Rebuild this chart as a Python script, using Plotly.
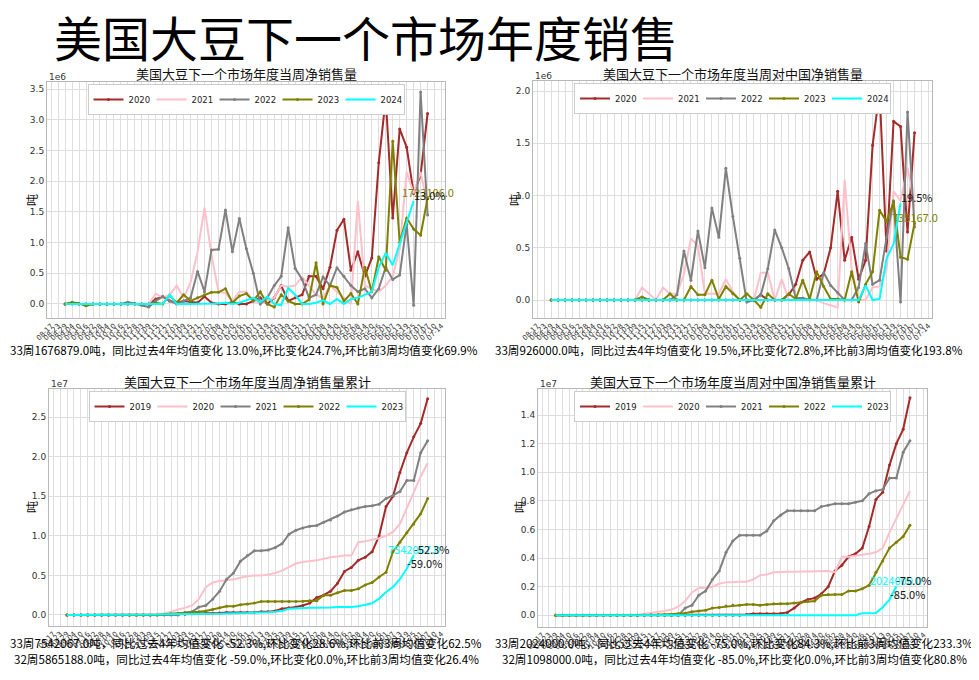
import plotly.graph_objects as go

PAGE_W, PAGE_H = 979, 680
BODY = 8  # default page margin around the plot div
W, H = PAGE_W - BODY, PAGE_H - BODY

# ---------------- data ----------------
WEEK_LABELS = [
    "08-17", "08-23", "08-29", "09-04", "09-10", "09-16", "09-22", "09-28", "10-04", "10-10",
    "10-16", "10-22", "10-28", "11-03", "11-09", "11-15", "11-21", "11-27", "12-03", "12-09",
    "12-15", "12-21", "12-27", "01-02", "01-08", "01-14", "01-20", "01-26", "02-01", "02-07",
    "02-13", "02-19", "02-25", "03-03", "03-09", "03-15", "03-21", "03-27", "04-02", "04-08",
    "04-14", "04-20", "04-26", "05-02", "05-08", "05-14", "05-20", "05-26", "06-01", "06-07",
    "06-13", "06-19", "06-25", "07-01", "07-07", "07-10", "07-14",
]
FIRST_WEEK = 2  # every series begins at this slot of WEEK_LABELS

YEARS_WEEKLY = ["2020", "2021", "2022", "2023", "2024"]
YEARS_CUM = ["2019", "2020", "2021", "2022", "2023"]

# weekly net sales, total (unit 1e6 t)
total_2020 = [0, 0.01, 0, 0, 0, 0, 0, 0, 0, 0, 0, 0,
              0, 0.08, 0.12, 0.05, 0.02, 0.05, 0.03, 0.02, 0.12, 0.02,
              0, 0, 0.03, 0, 0, 0.05, 0.1, 0, 0.1, 0.3,
              0.05, 0.1, 0.15, 0.45, 0.45, 0.25, 0.6, 1.2, 1.38, 0.55,
              0.85, 0.45, 0.75, 2.3, 3.35, 1.4, 2.85, 2.55, 1.8, 2.1, 3.1]
total_2021 = [0] * 13 + [0.17, 0.1, 0.15, 0.3, 0.1, 0.35, 0.85, 1.57, 0.8, 0.2,
                         0.18, 0.05, 0.2, 0.2, 0.05, 0.02, 0.05, 0.1, 0.3, 0.28,
                         0.3, 0.44, 0.3, 0.15, 0.1, 0.3, 0.2, 0.1, 0.0, 1.68,
                         0.3, 0.25, 0.2, 0.3, 0.45, 0.9, 2.15, 1.8, 2.15, 1.6]
total_2022 = [0] * 9 + [0.03, 0, -0.02, -0.05, 0.05, 0.12, 0.05, 0, 0.05, 0.1,
                        0.53, 0.2, 0.88, 0.89, 1.53, 0.85, 1.39, 0.9, 0.5, 0.0,
                        0.1, 0.3, 0.45, 1.24, 0.58, 0.4, 0.1, 0.15, 0.44, 0.3,
                        0.59, 0.45, 0.3, 0.2, 0.25, 0.1, 0.25, 0.6, 0.4, 0.47,
                        1.3, -0.02, 3.45, 1.45]
total_2023 = [0, 0.03, 0.01, -0.03, 0, 0, 0, 0, 0, 0,
              0.01, 0, 0, 0.02, 0, 0.14, 0.02, 0.15, 0.05, 0.1,
              0.15, 0.19, 0.19, 0.25, 0.02, 0.13, 0.17, 0.05, 0.2, 0.0,
              -0.05, 0.15, 0.05, 0.0, 0.0, 0.07, 0.67, 0.0, 0.3, 0.27,
              0.05, 0.17, 0.0, 0.6, 0.2, 0.77, 0.55, 2.65, 1.0, 1.4,
              1.22, 1.12, 1.723106]
total_2024 = [0] * 10 + [0, 0, 0, 0, 0, 0.15, 0, 0, 0, 0,
                         0, 0, 0.01, 0.02, 0.0, 0.02, 0.06, 0.1, 0.03, 0.12,
                         0, -0.02, 0.26, 0.15, 0.0, 0.0, 0.02, 0.06, 0.0, 0.08,
                         0.0, 0.08, 0.1, 0.15, 0.2, 0.6, 0.83, 0.63, 0.985, 1.345, 1.676879]

# weekly net sales to China (unit 1e6 t)
china_2020 = [0] * 30 + [0.05, 0, 0, 0, 0.05,
                         0.15, 0.38, 0.46, 0.2, 0.25, 0.5, 1.04, 0.38, 0.6, 0.2,
                         0.38, 1.48, 2.0, 0.47, 1.71, 1.66, 0.65, 1.6]
china_2021 = [0] * 13 + [0.12, 0.06, 0, 0.12, 0.06, 0.06, 0.25, 0.59, 0.52, 0.06,
                         0.06, 0.06, 0.2, 0.08, 0, 0, 0, 0.26, 0.26, 0,
                         0.2, 0, 0, 0.01, 0.01, 0, -0.03, -0.05, -0.07, 1.15,
                         0.3, 0, 0, 0.12, 0.13, 0.3, 1.04, 0.95, 1.27, 0.9]
china_2022 = [0] * 18 + [0.05, 0.47, 0.19, 0.66, 0.31, 0.88, 0.6, 1.26, 0.8, 0.4,
                         -0.02, 0, 0.05, 0.3, 0.67, 0.5, 0.3, 0.02, 0.02, 0,
                         0, 0.26, 0.14, 0.07, 0, 0, 0.12, 0.54, 0.15, 0.19,
                         0.6, 0.95, -0.02, 1.8, 0.7]
china_2023 = [0] * 13 + [0.03, 0, 0, 0, 0.06, 0, 0, 0.13, 0.05, 0.05,
                         0.19, 0.01, 0.13, 0.06, 0, 0.06, 0, -0.07, 0.06, 0,
                         0, 0.06, 0.01, 0.19, 0.01, 0.27, 0.13, 0.01, 0.01, 0,
                         0.27, -0.02, 0.15, 0.27, 0.86, 0.75, 0.94, 0.41, 0.39, 0.735167]
china_2024 = [0] * 44 + [0.0, 0.14, 0.0, 0.01, 0.4, 0.536, 0.926]

# cumulative net sales, total (unit 1e7 t)
cum_2019 = [0] * 13 + [0.005, 0.005, 0.01, 0.01, 0.01, 0.015, 0.02, 0.02, 0.02, 0.025,
                       0.03, 0.03, 0.03, 0.03, 0.035, 0.04, 0.04, 0.05, 0.08, 0.09,
                       0.1, 0.12, 0.15, 0.22, 0.25, 0.3, 0.4, 0.55, 0.6, 0.69,
                       0.73, 0.8, 1.0, 1.37, 1.5, 1.8, 2.05, 2.25, 2.42, 2.73]
cum_2020 = [0] * 11 + [0.005, 0.01, 0.015, 0.02, 0.04, 0.07, 0.09, 0.12, 0.2, 0.35,
                       0.41, 0.43, 0.44, 0.45, 0.47, 0.49, 0.5, 0.5, 0.51, 0.53,
                       0.56, 0.6, 0.65, 0.67, 0.68, 0.69, 0.71, 0.73, 0.74, 0.75,
                       0.75, 0.92, 0.93, 0.95, 0.97, 1.0, 1.05, 1.15, 1.35, 1.55,
                       1.75, 1.92]
cum_2021 = [0] * 17 + [0.03, 0.04, 0.1, 0.12, 0.2, 0.3, 0.45, 0.53, 0.68, 0.75,
                       0.81, 0.81, 0.82, 0.85, 0.9, 1.02, 1.07, 1.1, 1.12, 1.13,
                       1.17, 1.2, 1.25, 1.3, 1.33, 1.35, 1.37, 1.38, 1.4, 1.47,
                       1.51, 1.56, 1.7, 1.7, 2.05, 2.2]
cum_2022 = [0] * 14 + [0.01, 0.015, 0.02, 0.025, 0.03, 0.04, 0.05, 0.07, 0.09, 0.11,
                       0.11, 0.13, 0.14, 0.15, 0.17, 0.17, 0.17, 0.17, 0.17, 0.17,
                       0.175, 0.18, 0.18, 0.25, 0.25, 0.28, 0.31, 0.31, 0.33, 0.38,
                       0.41, 0.48, 0.54, 0.8, 0.92, 1.04, 1.15, 1.28, 1.47]
cum_2023 = [0] * 13 + [0.005, 0.01, 0.01, 0.01, 0.01, 0.01, 0.015, 0.015, 0.015, 0.015,
                       0.02, 0.02, 0.02, 0.025, 0.03, 0.03, 0.035, 0.04, 0.05, 0.08,
                       0.085, 0.085, 0.09, 0.09, 0.09, 0.095, 0.1, 0.1, 0.1, 0.11,
                       0.125, 0.147, 0.207, 0.29, 0.354, 0.452, 0.5865188, 0.7542067]

# cumulative net sales to China (unit 1e7 t)
cumcn_2019 = [0] * 28 + [0.005, 0.01, 0.01, 0.01, 0.01,
                         0.012, 0.02, 0.05, 0.09, 0.11, 0.12, 0.15, 0.2, 0.31, 0.35,
                         0.41, 0.43, 0.47, 0.62, 0.81, 0.86, 1.05, 1.2, 1.3, 1.52]
cumcn_2020 = [0] * 13 + [0.01, 0.015, 0.02, 0.03, 0.04, 0.06, 0.1, 0.16, 0.19, 0.19,
                         0.2, 0.22, 0.23, 0.235, 0.235, 0.235, 0.25, 0.28, 0.285, 0.3,
                         0.305, 0.305, 0.305, 0.305, 0.305, 0.31, 0.31, 0.31, 0.3, 0.41,
                         0.41, 0.415, 0.42, 0.43, 0.44, 0.47, 0.58, 0.68, 0.78, 0.87]
cumcn_2021 = [0] * 18 + [0.0, 0.05, 0.07, 0.14, 0.17, 0.25, 0.31, 0.44, 0.52, 0.56,
                         0.56, 0.56, 0.56, 0.59, 0.66, 0.7, 0.73, 0.73, 0.73, 0.73,
                         0.73, 0.76, 0.77, 0.78, 0.78, 0.78, 0.79, 0.8, 0.85, 0.87,
                         0.88, 0.96, 0.96, 1.14, 1.22]
cumcn_2022 = [0] * 13 + [0.002, 0.003, 0.004, 0.006, 0.008, 0.01, 0.015, 0.025, 0.03, 0.035,
                         0.05, 0.055, 0.065, 0.07, 0.07, 0.075, 0.075, 0.07, 0.075, 0.08,
                         0.08, 0.08, 0.085, 0.09, 0.1, 0.1, 0.14, 0.145, 0.145, 0.145,
                         0.17, 0.17, 0.185, 0.21, 0.3, 0.38, 0.47, 0.51, 0.55, 0.63]
cumcn_2023 = [0] * 43 + [0.001, 0.001, 0.015, 0.015, 0.016, 0.056, 0.1098, 0.2024]

# annotation texts
MAIN_TITLE = "美国大豆下一个市场年度销售"
TITLES = ["美国大豆下一个市场年度当周净销售量", "美国大豆下一个市场年度当周对中国净销售量",
          "美国大豆下一个市场年度当周净销售量累计", "美国大豆下一个市场年度当周对中国净销售量累计"]
SUMMARY = [
    ["33周1676879.0吨，同比过去4年均值变化 13.0%,环比变化24.7%,环比前3周均值变化69.9%"],
    ["33周926000.0吨，同比过去4年均值变化 19.5%,环比变化72.8%,环比前3周均值变化193.8%"],
    ["33周7542067.0吨，同比过去4年均值变化 -52.3%,环比变化28.6%,环比前3周均值变化62.5%",
     "32周5865188.0吨，同比过去4年均值变化 -59.0%,环比变化0.0%,环比前3周均值变化26.4%"],
    ["33周2024000.0吨，同比过去4年均值变化 -75.0%,环比变化84.3%,环比前3周均值变化233.3%",
     "32周1098000.0吨，同比过去4年均值变化 -85.0%,环比变化0.0%,环比前3周均值变化80.8%"],
]
VALUE_LABELS = ["1723106.0", "735167.0", "7542067.0", "2024000.0"]
PCT_LABELS = [["13.0%"], ["19.5%"], ["-52.3%", "-59.0%"], ["-75.0%", "-85.0%"]]

# ---------------- style / layout ----------------
COLORS = ["#A52A2A", "#FFC0CB", "#808080", "#808000", "#00FFFF"]
WITH_MARKERS = [True, False, True, True, False]
CJK = "Noto Sans CJK SC"
TICKFONT = "DejaVu Sans"

panels = [
    dict(series=[total_2020, total_2021, total_2022, total_2023, total_2024], years=YEARS_WEEKLY,
         px=(47, 445), py=(82, 318), yr=(-0.228, 3.614), yt=[0, 0.5, 1, 1.5, 2, 2.5, 3, 3.5],
         exp="1e6", label_series=3, pct_series=4, ylab=(31, 200), txt=[(8, 350)]),
    dict(series=[china_2020, china_2021, china_2022, china_2023, china_2024], years=YEARS_WEEKLY,
         px=(533, 932), py=(81, 318), yr=(-0.172, 2.096), yt=[0, 0.5, 1, 1.5, 2],
         exp="1e6", label_series=3, pct_series=4, ylab=(514, 200), txt=[(493, 350)]),
    dict(series=[cum_2019, cum_2020, cum_2021, cum_2022, cum_2023], years=YEARS_CUM,
         px=(49, 445), py=(389, 626), yr=(-0.139, 2.854), yt=[0, 0.5, 1, 1.5, 2, 2.5],
         exp="1e7", label_series=4, pct_series=4, ylab=(31, 507), txt=[(8, 643), (12, 659)]),
    dict(series=[cumcn_2019, cumcn_2020, cumcn_2021, cumcn_2022, cumcn_2023], years=YEARS_CUM,
         px=(538, 927), py=(389, 627), yr=(-0.082, 1.582), yt=[0, 0.2, 0.4, 0.6, 0.8, 1.0, 1.2, 1.4],
         exp="1e7", label_series=4, pct_series=4, ylab=(519, 507), txt=[(493, 643), (500, 659)]),
]


def fx(p):
    return (p - BODY) / W


def fy(p):
    return 1 - (p - BODY) / H


fig = go.Figure()
annotations = []
layout = dict(width=W, height=H, margin=dict(l=0, r=0, t=0, b=0, autoexpand=False),
              paper_bgcolor="white", plot_bgcolor="white", showlegend=True)

for k, p in enumerate(panels):
    sfx = "" if k == 0 else str(k + 1)
    xa, ya = "x" + sfx, "y" + sfx
    leg = "legend" + sfx
    for j, (vals, yr_name) in enumerate(zip(p["series"], p["years"])):
        xs = WEEK_LABELS[FIRST_WEEK:FIRST_WEEK + len(vals)]
        fig.add_trace(go.Scatter(
            x=xs, y=vals, name=yr_name, xaxis=xa, yaxis=ya, legend=leg,
            mode="lines+markers" if WITH_MARKERS[j] else "lines",
            line=dict(color=COLORS[j], width=2),
            marker=dict(size=3, color=COLORS[j]),
            hoverinfo="skip"))
    layout["xaxis" + sfx] = dict(
        domain=[fx(p["px"][0]), fx(p["px"][1])], anchor=ya, type="category",
        categoryorder="array", categoryarray=WEEK_LABELS,
        tickmode="array", tickvals=WEEK_LABELS, ticktext=WEEK_LABELS,
        range=[-0.6, len(WEEK_LABELS) - 0.5], tickangle=-45, automargin=False,
        tickfont=dict(family=TICKFONT, size=7, color="#333"),
        showgrid=True, gridcolor="#dedede", gridwidth=1,
        showline=True, mirror=True, linecolor="#b8b8b8", linewidth=1, zeroline=False,
        ticks="", fixedrange=True)
    layout["yaxis" + sfx] = dict(
        domain=[fy(p["py"][1]), fy(p["py"][0])], anchor=xa, automargin=False,
        range=list(p["yr"]), tickmode="array", tickvals=p["yt"],
        ticktext=["%.1f" % v for v in p["yt"]],
        tickfont=dict(family=TICKFONT, size=9, color="#333"),
        showgrid=True, gridcolor="#dedede", gridwidth=1,
        showline=True, mirror=True, linecolor="#b8b8b8", linewidth=1, zeroline=False,
        ticks="", fixedrange=True)
    cx = (p["px"][0] + p["px"][1]) / 2
    layout[leg] = dict(
        x=fx(cx), xanchor="center", y=fy(p["py"][0] + 2), yanchor="top",
        orientation="h", bgcolor="white", bordercolor="#cccccc", borderwidth=1,
        entrywidth=18, entrywidthmode="pixels",
        font=dict(family=TICKFONT, size=8.5, color="#222"), itemclick=False)
    # subplot title
    annotations.append(dict(text=TITLES[k], x=fx(cx), y=fy(p["py"][0] - 8), xref="paper", yref="paper",
                            xanchor="center", yanchor="middle", showarrow=False,
                            font=dict(family=CJK, size=13, color="#111")))
    # exponent label
    annotations.append(dict(text=p["exp"], x=fx(p["px"][0]), y=fy(p["py"][0] - 5), xref="paper", yref="paper",
                            xanchor="left", yanchor="middle", showarrow=False, align="left",
                            font=dict(family=TICKFONT, size=9, color="#333")))
    # y axis label
    annotations.append(dict(text="吨", x=fx(p["ylab"][0]), y=fy(p["ylab"][1]), xref="paper", yref="paper",
                            xanchor="center", yanchor="middle", showarrow=False, textangle=-90,
                            font=dict(family=CJK, size=12, color="#111")))
    # value label (centered on the last point of the highlighted series)
    ls = p["series"][p["label_series"]]
    annotations.append(dict(text=VALUE_LABELS[k], x=WEEK_LABELS[FIRST_WEEK + len(ls) - 1], y=ls[-1],
                            xref=xa, yref=ya, xanchor="center", yanchor="bottom", yshift=-4,
                            showarrow=False, font=dict(family=CJK, size=11, color=COLORS[p["label_series"]])))
    # percentage labels on the latest series
    ps = p["series"][p["pct_series"]]
    for m, txt in enumerate(PCT_LABELS[k]):
        idx = len(ps) - 1 - m
        annotations.append(dict(text=txt, x=WEEK_LABELS[FIRST_WEEK + idx], y=ps[idx],
                                xref=xa, yref=ya, xanchor="left", yanchor="bottom", yshift=-4, xshift=-2,
                                align="left", showarrow=False,
                                font=dict(family=CJK, size=11, color="#111")))
    # summary text lines
    for line, (tx, ty) in zip(SUMMARY[k], p["txt"]):
        annotations.append(dict(text=line, x=fx(tx), y=fy(ty), xref="paper", yref="paper",
                                xanchor="left", yanchor="middle", showarrow=False, align="left",
                                font=dict(family=CJK, size=11.6, color="#000")))

annotations.append(dict(text=MAIN_TITLE, x=fx(52), y=fy(36), xref="paper", yref="paper",
                        xanchor="left", yanchor="middle", showarrow=False, align="left",
                        font=dict(family=CJK, size=48, color="#000")))

layout["annotations"] = annotations
fig.update_layout(**layout)
fig.write_html("out.html", config={"displayModeBar": False, "staticPlot": True})
